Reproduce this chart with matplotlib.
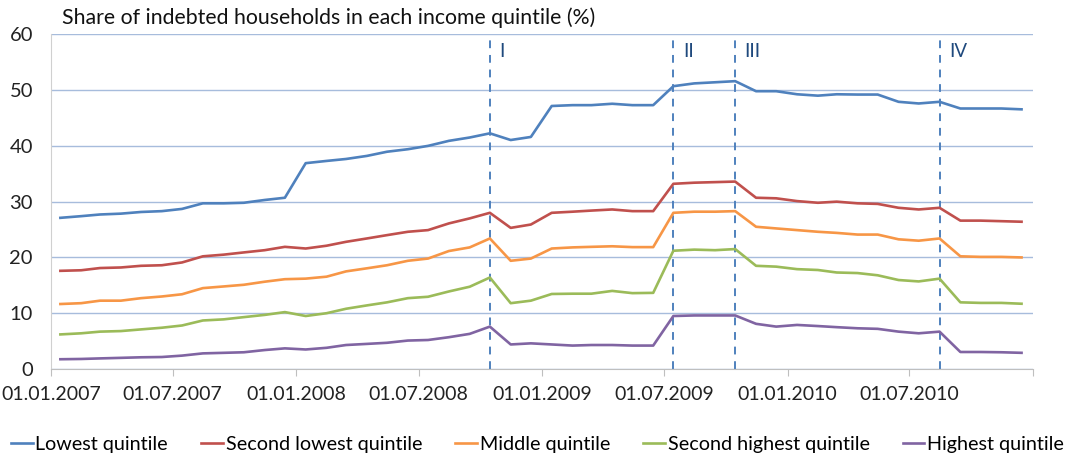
import numpy as np
import pandas as pd
from matplotlib import pyplot as plt

plt.rcParams['font.family'] = ['Lato', 'DejaVu Sans']

# Monthly observations, Jan 2007 - Dec 2010 (plotted mid-month)
dates = pd.date_range('2007-01-01', periods=48, freq='MS') + pd.Timedelta(days=14)

lowest = [27.1, 27.4, 27.7, 27.85, 28.15, 28.3, 28.7, 29.7, 29.7, 29.8, 30.3, 30.7,
          36.9, 37.3, 37.65, 38.2, 38.95, 39.4, 40.0, 40.9, 41.5, 42.25, 41.05, 41.6,
          47.15, 47.3, 47.3, 47.55, 47.3, 47.3, 50.7, 51.2, 51.4, 51.6, 49.8, 49.8,
          49.25, 49.0, 49.25, 49.2, 49.2, 47.9, 47.6, 47.9, 46.7, 46.7, 46.7, 46.55]
second_lowest = [17.6, 17.7, 18.1, 18.2, 18.5, 18.6, 19.1, 20.2, 20.5, 20.9, 21.3, 21.9,
                 21.6, 22.1, 22.8, 23.4, 24.0, 24.6, 24.9, 26.1, 27.0, 28.0, 25.3, 25.9,
                 28.0, 28.2, 28.4, 28.6, 28.3, 28.3, 33.2, 33.4, 33.5, 33.6, 30.7, 30.6,
                 30.1, 29.8, 30.0, 29.7, 29.6, 28.9, 28.6, 28.9, 26.6, 26.6, 26.5, 26.4]
middle = [11.65, 11.8, 12.25, 12.25, 12.7, 13.0, 13.4, 14.5, 14.8, 15.1, 15.65, 16.1,
          16.2, 16.55, 17.5, 18.05, 18.6, 19.4, 19.8, 21.15, 21.8, 23.4, 19.4, 19.8,
          21.6, 21.8, 21.9, 22.0, 21.85, 21.85, 28.0, 28.2, 28.2, 28.3, 25.5, 25.2,
          24.9, 24.6, 24.4, 24.1, 24.1, 23.25, 23.0, 23.4, 20.2, 20.1, 20.1, 20.0]
second_highest = [6.2, 6.4, 6.7, 6.8, 7.1, 7.4, 7.8, 8.7, 8.9, 9.3, 9.7, 10.2,
                  9.5, 10.0, 10.8, 11.4, 11.95, 12.7, 12.95, 13.9, 14.75, 16.4, 11.8, 12.25,
                  13.45, 13.5, 13.5, 14.0, 13.6, 13.65, 21.2, 21.4, 21.3, 21.5, 18.5, 18.35,
                  17.9, 17.75, 17.3, 17.2, 16.8, 15.95, 15.7, 16.2, 11.95, 11.85, 11.85, 11.7]
highest = [1.75, 1.8, 1.9, 2.0, 2.1, 2.15, 2.4, 2.8, 2.9, 3.0, 3.4, 3.7,
           3.5, 3.8, 4.3, 4.5, 4.7, 5.1, 5.2, 5.7, 6.3, 7.6, 4.4, 4.6,
           4.4, 4.2, 4.3, 4.3, 4.2, 4.2, 9.5, 9.6, 9.6, 9.6, 8.1, 7.6,
           7.9, 7.7, 7.5, 7.3, 7.2, 6.7, 6.4, 6.7, 3.05, 3.05, 3.0, 2.9]

series = [
    ('Lowest quintile', lowest, '#4F81BD'),
    ('Second lowest quintile', second_lowest, '#C0504D'),
    ('Middle quintile', middle, '#F79646'),
    ('Second highest quintile', second_highest, '#9BBB59'),
    ('Highest quintile', highest, '#8064A2'),
]

# Marked periods
events = ['2008-10', '2009-07', '2009-10', '2010-08']
event_labels = ['I', 'II', 'III', 'IV']

fig = plt.figure(figsize=(10.75, 4.55), dpi=100)
ax = fig.add_axes([0.0474, 0.189, 0.9135, 0.7356])

for name, vals, col in series:
    ax.plot(dates, vals, color=col, lw=1.9, label=name, solid_joinstyle='round')

for ev, lab in zip(events, event_labels):
    d = pd.Timestamp(ev + '-01') + pd.Timedelta(days=14)
    ax.axvline(d, color='#4F81BD', lw=1.4, ls=(0, (4, 3.5)), zorder=1)
    ax.text(d + pd.Timedelta(days=14), 57.0, lab, color='#1F497D', fontsize=13.5,
            va='center', ha='left')

ax.set_ylim(0, 60)
ax.set_yticks(range(0, 61, 10))
ax.set_xlim(pd.Timestamp('2007-01-01'), pd.Timestamp('2011-01-01'))
ticks = pd.date_range('2007-01-01', '2011-01-01', freq='6MS')
ax.set_xticks(ticks)
ax.set_xticklabels([t.strftime('%d.%m.%Y') for t in ticks[:-1]] + [''])

ax.grid(axis='y', color='#A7BCDC', lw=1)
ax.set_axisbelow(True)
for s in ['top', 'right']:
    ax.spines[s].set_visible(False)
ax.spines['left'].set_color('#D0D0D0')
ax.spines['bottom'].set_color('#BFBFBF')
ax.tick_params(axis='y', length=0, labelsize=14.5, pad=13, colors='#222222')
ax.tick_params(axis='x', length=5, color='#BFBFBF', labelsize=14, pad=7,
               labelcolor='#222222')

fig.text(0.058, 0.962, 'Share of indebted households in each income quintile (%)',
         fontsize=15.3, va='center', ha='left', color='#111111')

fig.legend(loc='lower center', ncol=5, frameon=False, fontsize=14.2,
           bbox_to_anchor=(0.5, -0.035), handlelength=1.1, handletextpad=0.15,
           columnspacing=1.67)

fig.savefig('out.png', dpi=100)
